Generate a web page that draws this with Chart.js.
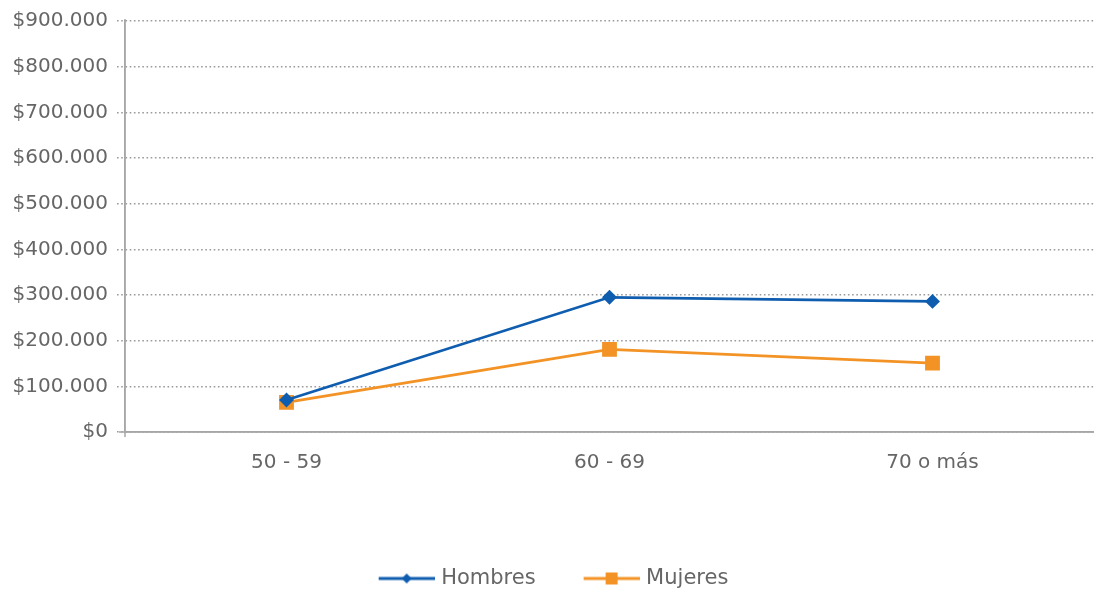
<!DOCTYPE html>
<html><head><meta charset="utf-8">
<script src="https://cdn.jsdelivr.net/npm/chart.js@4/dist/chart.umd.min.js"></script>
<style>html,body{margin:0;padding:0;background:#fff}#wrap{width:1094px;height:589px;position:relative}</style>
</head><body><div id="wrap"><canvas id="c" width="1094" height="589"></canvas></div>
<script>
const categories = ["50 - 59", "60 - 69", "70 o más"];
const hombres = [70000, 295000, 286000];
const mujeres = [65000, 181000, 151000];
const yMin = 0, yMax = 900000, yStep = 100000;
const seriesNames = ["Hombres", "Mujeres"];
const colors = ["#0F5DAF", "#F39325"];

const FONT = "'DejaVu Sans', sans-serif";
const FS = 20;
const GRAY = "#666666";

function legendIcon(color, style) {
  const c = document.createElement('canvas');
  c.width = 64; c.height = 14;
  const x = c.getContext('2d');
  x.strokeStyle = color; x.lineWidth = 2.8;
  x.beginPath(); x.moveTo(8, 7); x.lineTo(64, 7); x.stroke();
  x.fillStyle = color;
  if (style === 'diamond') {
    x.beginPath(); x.moveTo(36, 2); x.lineTo(41, 7); x.lineTo(36, 12); x.lineTo(31, 7); x.closePath(); x.fill();
  } else {
    x.fillRect(30, 1, 12, 12);
  }
  return c;
}
const icons = [legendIcon(colors[0], 'diamond'), legendIcon(colors[1], 'square')];

function fmt(v) {
  return "$" + String(v).replace(/\B(?=(\d{3})+(?!\d))/g, ".");
}

new Chart(document.getElementById('c'), {
  type: 'line',
  data: {
    labels: categories,
    datasets: [
      { label: seriesNames[0], data: hombres, borderColor: colors[0], backgroundColor: colors[0],
        borderWidth: 2.8, pointStyle: 'rectRot', pointRadius: 5.5, pointHoverRadius: 5.5, tension: 0 },
      { label: seriesNames[1], data: mujeres, borderColor: colors[1], backgroundColor: colors[1],
        borderWidth: 2.8, pointStyle: 'rect', pointRadius: 8.5, pointHoverRadius: 8.5, tension: 0 }
    ]
  },
  options: {
    responsive: false,
    animation: false,
    layout: { autoPadding: false, padding: { top: 21, right: -9, bottom: -10, left: 0 } },
    plugins: {
      tooltip: { enabled: false },
      legend: {
        position: 'bottom',
        labels: {
          font: { family: FONT, size: 21 },
          color: GRAY,
          usePointStyle: true,
          pointStyleWidth: 56,
          boxHeight: 14,
          padding: 44,
          generateLabels: (chart) => chart.data.datasets.map((d, i) => ({
            text: d.label, pointStyle: icons[i], fillStyle: d.borderColor, strokeStyle: d.borderColor,
            lineWidth: 0, fontColor: GRAY, datasetIndex: i, hidden: false
          }))
        }
      }
    },
    scales: {
      x: {
        offset: true,
        grid: { display: false, drawTicks: false },
        border: { display: true, color: '#A6A6A6', width: 1.5 },
        ticks: { font: { family: FONT, size: FS }, color: GRAY, padding: 19 },
        afterFit: (s) => { s.height = 92; s.paddingRight = 0; s.paddingLeft = 0; }
      },
      y: {
        min: yMin, max: yMax,
        grid: { color: '#9A9A9A', lineWidth: 1.6, tickLength: 8, tickBorderDash: [1.6, 2.6] },
        border: { display: true, color: '#A6A6A6', width: 1.5, dash: [1.6, 2.6] },
        ticks: { stepSize: yStep, font: { family: FONT, size: FS }, color: GRAY, padding: 9, callback: (v) => fmt(v) },
        afterFit: (s) => { s.width = 125; s.paddingTop = 0; s.paddingBottom = 0; }
      }
    }
  },
  plugins: [{
    id: 'axisSolid',
    beforeDatasetsDraw(chart) {
      const { ctx, chartArea } = chart;
      ctx.save();
      ctx.strokeStyle = '#A6A6A6'; ctx.lineWidth = 1.5;
      ctx.beginPath(); ctx.moveTo(chartArea.left, chartArea.top - 2); ctx.lineTo(chartArea.left, chartArea.bottom + 5); ctx.stroke();
      ctx.beginPath(); ctx.moveTo(chartArea.left - 6, chartArea.bottom); ctx.lineTo(chartArea.right, chartArea.bottom); ctx.stroke();
      ctx.restore();
    }
  }]
});
</script></body></html>
